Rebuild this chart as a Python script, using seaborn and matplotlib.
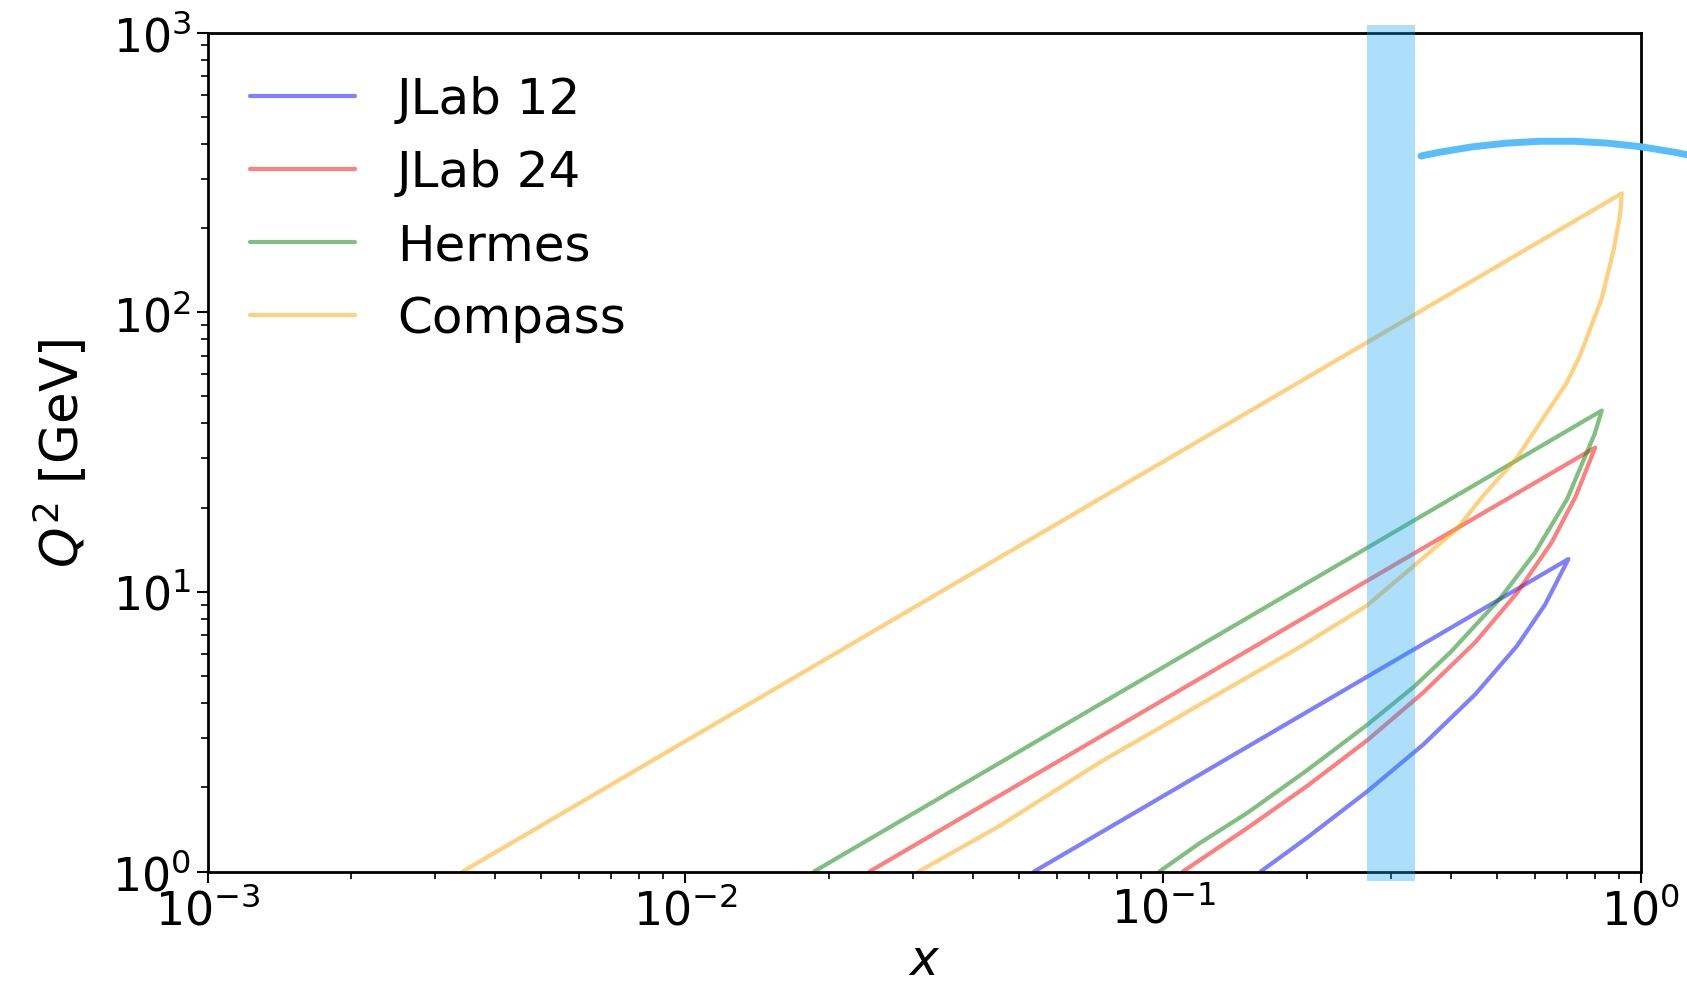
import numpy as np
import pandas as pd
import matplotlib
matplotlib.use('Agg')
import matplotlib.pyplot as plt
import seaborn as sns

# boundary of each kinematic region:
# y_max line from Q^2 = 1 up to the corner, then the W cut back down to Q^2 = 1
jlab12_x  = [0.0537, 0.705, 0.63, 0.55, 0.45, 0.35, 0.267, 0.20, 0.16]
jlab12_q2 = [1.0, 13.1, 9.0, 6.4, 4.3, 2.84, 1.93, 1.32, 1.0]

jlab24_x  = [0.0243, 0.802, 0.73, 0.65, 0.55, 0.45, 0.35, 0.267, 0.20, 0.15, 0.11]
jlab24_q2 = [1.0, 32.8, 21.9, 15.0, 9.9, 6.6, 4.36, 2.94, 2.02, 1.43, 1.0]

hermes_x  = [0.0186, 0.828, 0.80, 0.70, 0.60, 0.507, 0.40, 0.335, 0.267, 0.20, 0.15, 0.119, 0.0982]
hermes_q2 = [1.0, 44.5, 36.7, 21.4, 13.8, 9.46, 6.1, 4.58, 3.34, 2.30, 1.62, 1.26, 1.0]

compass_x  = [0.00342, 0.912, 0.904, 0.878, 0.828, 0.746, 0.70, 0.549, 0.468, 0.412,
              0.335, 0.267, 0.193, 0.119, 0.0738, 0.0456, 0.0308]
compass_q2 = [1.0, 266, 222, 169, 112, 70.2, 56.1, 30.0, 22.1, 16.8,
              12.4, 8.93, 6.34, 3.94, 2.46, 1.46, 1.0]

names  = ['JLab 12', 'JLab 24', 'Hermes', 'Compass']
colors = ['blue', 'red', 'green', 'orange']

band_x = (0.267, 0.337)   # highlighted x slice

sns.set_style('ticks')
plt.rcParams.update({'font.family': ['DejaVu Sans'],
                     'axes.edgecolor': 'black', 'text.color': 'black',
                     'axes.labelcolor': 'black',
                     'xtick.color': 'black', 'ytick.color': 'black'})

fig, ax = plt.subplots(figsize=(16.87, 9.95), dpi=100)
fig.subplots_adjust(left=0.123, right=0.9727, bottom=0.1231, top=0.9663)

curves = [(jlab12_x, jlab12_q2), (jlab24_x, jlab24_q2),
          (hermes_x, hermes_q2), (compass_x, compass_q2)]
for (xs, qs), name, c in zip(curves, names, colors):
    df = pd.DataFrame({'x': xs, 'Q2': qs})
    sns.lineplot(data=df, x='x', y='Q2', sort=False, estimator=None,
                 color=c, alpha=0.5, lw=3.0, label=name, ax=ax)

ax.set_xscale('log')
ax.set_yscale('log')
ax.set_xlim(1e-3, 1)
ax.set_ylim(1, 1e3)

ax.axvspan(band_x[0], band_x[1], ymin=-0.011, ymax=1.009, color='#15a1f1',
           alpha=0.35, lw=0, zorder=3, clip_on=False)

ax.annotate('', xy=(1.0036, 0.8422), xycoords='figure fraction',
            xytext=(0.8423, 0.8422), textcoords='figure fraction',
            arrowprops=dict(arrowstyle='-', connectionstyle='arc3,rad=-0.11',
                            color='#58befb', lw=5, shrinkA=0, shrinkB=0),
            annotation_clip=False)

ax.set_xlabel(r'$x$', fontsize=35, labelpad=2)
ax.set_ylabel(r'$Q^2$ [GeV]', fontsize=37, labelpad=16)
for s in ax.spines.values():
    s.set_linewidth(2.0)
ax.tick_params(which='major', length=8, width=1.5, labelsize=33)
ax.tick_params(which='minor', length=5, width=1.2)

ax.legend(loc='upper left', frameon=False, fontsize=36, handlelength=2.1,
          handletextpad=0.84, labelspacing=0.5, borderaxespad=0.45)

fig.savefig('out.png', dpi=100)
